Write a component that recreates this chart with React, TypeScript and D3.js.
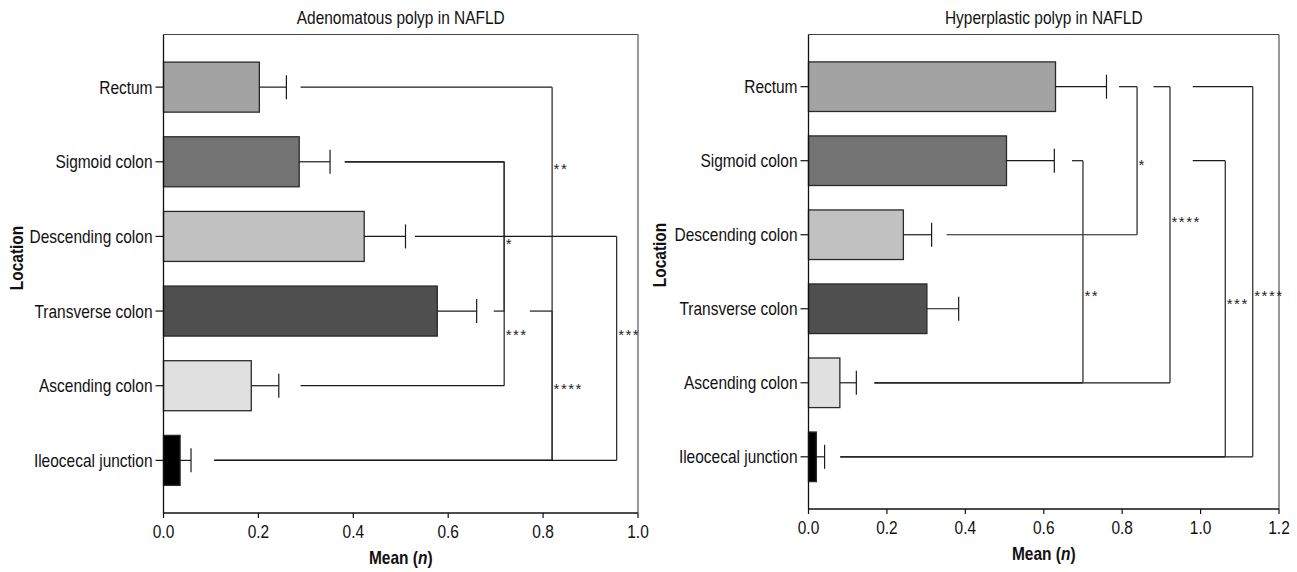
import React from "react";
import * as d3 from "d3";

const categories = [
  "Rectum",
  "Sigmoid colon",
  "Descending colon",
  "Transverse colon",
  "Ascending colon",
  "Ileocecal junction",
];
const barColors = ["#a3a3a3", "#737373", "#c1c1c1", "#4f4f4f", "#e0e0e0", "#000000"];

// Adenomatous polyp panel
const adenomaMeans = [0.202, 0.286, 0.423, 0.577, 0.185, 0.035];
const adenomaSEM = [0.057, 0.065, 0.087, 0.083, 0.058, 0.023];
const adenomaTicks = [0, 0.2, 0.4, 0.6, 0.8, 1.0];
// from/to rows, x of vertical (value units), line starts, label, label row position
const adenomaBrackets = [
  { from: 0, to: 5, x: 0.819, startFrom: 0.289, startTo: 0.107, label: "**", labelRow: 1.05 },
  { from: 1, to: 4, x: 0.718, startFrom: 0.382, startTo: 0.289, label: "***", labelRow: 3.28 },
  { from: 1, to: 3, x: 0.718, startFrom: 0.382, startTo: 0.696, label: "*", labelRow: 2.06 },
  { from: 3, to: 5, x: 0.819, startFrom: 0.772, startTo: 0.107, label: "****", labelRow: 4.0 },
  { from: 2, to: 5, x: 0.955, startFrom: 0.530, startTo: 0.107, label: "***", labelRow: 3.28 },
];

// Hyperplastic polyp panel
const hyperMeans = [0.630, 0.505, 0.242, 0.302, 0.080, 0.020];
const hyperSEM = [0.130, 0.122, 0.072, 0.081, 0.042, 0.021];
const hyperTicks = [0, 0.2, 0.4, 0.6, 0.8, 1.0, 1.2];
const hyperBrackets = [
  { from: 0, to: 2, x: 0.838, startFrom: 0.792, startTo: 0.352, label: "*", labelRow: 1.01 },
  { from: 0, to: 4, x: 0.922, startFrom: 0.880, startTo: 0.168, label: "****", labelRow: 1.79 },
  { from: 0, to: 5, x: 1.133, startFrom: 0.980, startTo: 0.081, label: "****", labelRow: 2.78 },
  { from: 1, to: 4, x: 0.700, startFrom: 0.672, startTo: 0.168, label: "**", labelRow: 2.78 },
  { from: 1, to: 5, x: 1.063, startFrom: 0.980, startTo: 0.081, label: "***", labelRow: 2.89 },
];

const FONT = "'Liberation Sans', Arial, sans-serif";
const SX = 0.86;

function CText(props: {
  x: number;
  y: number;
  anchor?: string;
  size?: number;
  weight?: string;
  rotate?: number;
  dy?: string;
  children: React.ReactNode;
}) {
  const { x, y, anchor = "start", size = 18, weight = "normal", rotate = 0, dy = "0", children } = props;
  return (
    <text
      transform={`translate(${x},${y}) rotate(${rotate}) scale(${SX},1)`}
      textAnchor={anchor}
      dy={dy}
      fontFamily={FONT}
      fontSize={size}
      fontWeight={weight}
      fill="#111"
    >
      {children}
    </text>
  );
}

type Bracket = {
  from: number; to: number; x: number; startFrom: number; startTo: number; label: string; labelRow: number;
};

function Panel(props: {
  title: string;
  means: number[];
  sems: number[];
  ticks: number[];
  brackets: Bracket[];
  xMax: number;
  left: number;
  right: number;
  top: number;
  bottom: number;
  yLabelX: number;
  yLabelY: number;
}) {
  const { title, means, sems, ticks, brackets, xMax, left, right, top, bottom, yLabelX, yLabelY } = props;
  const x = d3.scaleLinear().domain([0, xMax]).range([left, right]);
  const y = d3
    .scaleBand<string>()
    .domain(categories)
    .range([top, bottom])
    .paddingInner(0.33)
    .paddingOuter(0.37);
  const bw = y.bandwidth();
  const rowY = (r: number) => (y(categories[0]) as number) + bw / 2 + r * y.step();
  const fmt = d3.format(".1f");
  const cap = 12;
  const lineColor = "#1a1a1a";
  const cx = (left + right) / 2;

  return (
    <g>
      <CText x={cx} y={top - 11} anchor="middle" size={18}>
        {title}
      </CText>
      {/* frame top and right */}
      <line x1={left} x2={right} y1={top} y2={top} stroke="#444" strokeWidth={1.2} />
      <line x1={right} x2={right} y1={top} y2={bottom} stroke="#555" strokeWidth={1.2} />
      {/* bars */}
      {categories.map((c, i) => {
        const yc = (y(c) as number) + bw / 2;
        const xe = x(means[i] + sems[i]);
        return (
          <g key={c}>
            <rect
              x={x(0)}
              y={y(c) as number}
              width={x(means[i]) - x(0)}
              height={bw}
              fill={barColors[i]}
              stroke="#2a2a2a"
              strokeWidth={1.3}
            />
            <line x1={x(means[i])} x2={xe} y1={yc} y2={yc} stroke={lineColor} strokeWidth={1.2} />
            <line x1={xe} x2={xe} y1={yc - cap} y2={yc + cap} stroke={lineColor} strokeWidth={1.2} />
          </g>
        );
      })}
      {/* significance brackets */}
      {brackets.map((b, i) => {
        const y1 = rowY(b.from);
        const y2 = rowY(b.to);
        const xv = x(b.x);
        const fs = 15;
        return (
          <g key={i}>
            <line x1={x(b.startFrom)} x2={xv} y1={y1} y2={y1} stroke={lineColor} strokeWidth={1.2} />
            <line x1={x(b.startTo)} x2={xv} y1={y2} y2={y2} stroke={lineColor} strokeWidth={1.2} />
            <line x1={xv} x2={xv} y1={y1} y2={y2} stroke="#333" strokeWidth={1.3} />
            <text
              x={xv + 1.5}
              y={rowY(b.labelRow) + fs * 0.55}
              fontFamily="'Liberation Sans', sans-serif"
              fontSize={fs}
              letterSpacing={1.5}
              fill="#222"
            >
              {b.label}
            </text>
          </g>
        );
      })}
      {/* y axis */}
      <line x1={left} x2={left} y1={top} y2={bottom} stroke="#111" strokeWidth={1.3} />
      {categories.map((c) => {
        const yc = (y(c) as number) + bw / 2;
        return (
          <g key={"t" + c}>
            <line x1={left - 8} x2={left} y1={yc} y2={yc} stroke="#111" strokeWidth={1.2} />
            <CText x={left - 11} y={yc} dy="0.36em" anchor="end" size={18}>
              {c}
            </CText>
          </g>
        );
      })}
      {/* x axis */}
      <line x1={left} x2={right} y1={bottom} y2={bottom} stroke="#111" strokeWidth={1.3} />
      {ticks.map((t) => (
        <g key={"x" + t}>
          <line x1={x(t)} x2={x(t)} y1={bottom} y2={bottom + 5} stroke="#111" strokeWidth={1.2} />
          <CText x={x(t)} y={bottom + 19} dy="0.36em" anchor="middle" size={18}>
            {fmt(t)}
          </CText>
        </g>
      ))}
      <CText x={cx} y={bottom + 45} dy="0.36em" anchor="middle" size={18} weight="bold">
        Mean (<tspan fontStyle="italic">n</tspan>)
      </CText>
      <CText x={yLabelX} y={yLabelY} dy="0.36em" anchor="middle" size={18} weight="bold" rotate={-90}>
        Location
      </CText>
    </g>
  );
}

export default function App() {
  return (
    <svg
      width={1297}
      height={572}
      style={{ position: "absolute", left: 0, top: 0, background: "#fff" }}
    >
      <rect width={1297} height={572} fill="#fff" />
      <Panel
        title="Adenomatous polyp in NAFLD"
        means={adenomaMeans}
        sems={adenomaSEM}
        ticks={adenomaTicks}
        brackets={adenomaBrackets}
        xMax={1.0}
        left={163.5}
        right={638}
        top={34.5}
        bottom={513}
        yLabelX={17}
        yLabelY={258}
      />
      <Panel
        title="Hyperplastic polyp in NAFLD"
        means={hyperMeans}
        sems={hyperSEM}
        ticks={hyperTicks}
        brackets={hyperBrackets}
        xMax={1.2}
        left={808.5}
        right={1279}
        top={34.5}
        bottom={509}
        yLabelX={660}
        yLabelY={255}
      />
    </svg>
  );
}
